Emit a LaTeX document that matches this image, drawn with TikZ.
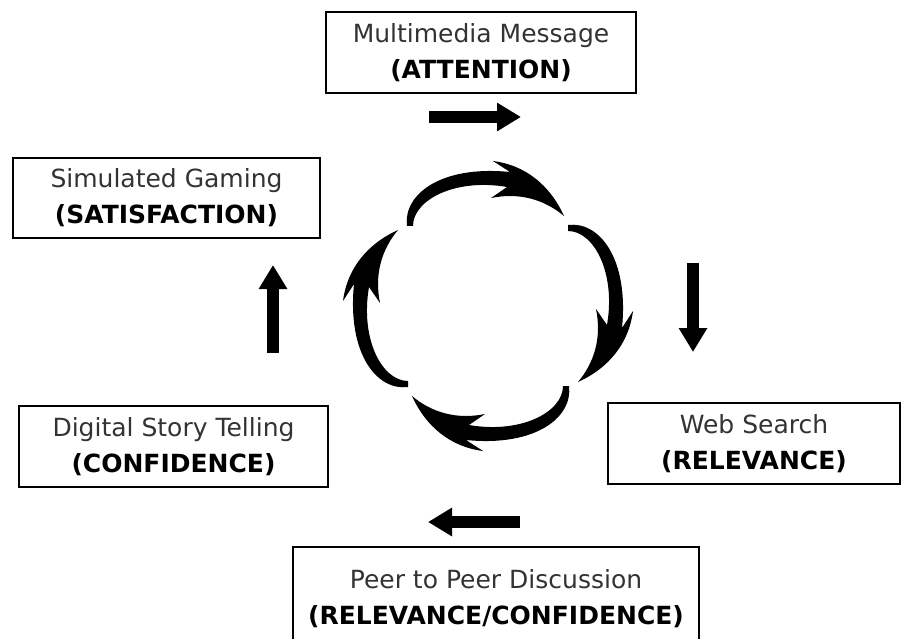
\documentclass[tikz,border=0pt]{standalone}
\usepackage{fontspec}
\setmainfont{DejaVu Sans}
\usetikzlibrary{arrows.meta}
\tikzset{
  box/.style={draw=black, line width=2.5pt, align=center, inner sep=0pt,
    font=\fontsize{25}{36}\selectfont, text=black!80},
  flow/.style={line width=12pt, draw=black,
    -{Triangle[width=27pt,length=24pt]}},
  cyc/.pic={
    \fill[black] (-81,-80) .. controls (-85,-111) and (-48,-141) .. (22,-134)
      -- (5,-145) .. controls (37,-141) and (62,-121) .. (76,-90)
      .. controls (57,-106) and (32,-114) .. (3,-108)
      -- (19,-119) .. controls (-33,-128) and (-75,-106) .. (-75,-80) -- cycle;
  }
}
\newcommand{\bl}[1]{{\bfseries\color{black}#1}}
\begin{document}
\begin{tikzpicture}[x=1pt,y=-1pt]
  \fill[white] (0,0) rectangle (902,639);
  \useasboundingbox (0,0) rectangle (902,639);
  \clip (0,0) rectangle (902,639);

  % boxes
  \node[box, minimum width=310pt, minimum height=81pt] (mm) at (481,52.5)
    {Multimedia Message\\\bl{(ATTENTION)}};
  \node[box, minimum width=307pt, minimum height=80pt] (sg) at (166.5,198)
    {Simulated Gaming\\\bl{(SATISFACTION)}};
  \node[box, minimum width=309pt, minimum height=81pt] (ds) at (173.5,446.5)
    {Digital Story Telling\\\bl{(CONFIDENCE)}};
  \node[box, minimum width=292pt, minimum height=81pt] (ws) at (754,443.5)
    {Web Search\\\bl{(RELEVANCE)}};
  \node[box, minimum width=406pt, minimum height=104pt] (pp) at (496,599)
    {Peer to Peer Discussion\\\bl{(RELEVANCE/CONFIDENCE)}};

  % straight arrows
  \coordinate (r1) at (429,117); \coordinate (r2) at (521,117);
  \coordinate (d1) at (693,263); \coordinate (d2) at (693,352);
  \coordinate (l1) at (520,522); \coordinate (l2) at (428,522);
  \coordinate (u1) at (273,353); \coordinate (u2) at (273,265);
  \draw[flow] (r1) -- (r2);
  \draw[flow] (d1) -- (d2);
  \draw[flow] (l1) -- (l2);
  \draw[flow] (u1) -- (u2);

  % cycle of curved arrows
  \coordinate (C) at (488,306);
  \pic at (C) {cyc};
  \pic[rotate=-90] at (C) {cyc};
  \pic[rotate=-180] at (C) {cyc};
  \pic[rotate=-270] at (C) {cyc};
\end{tikzpicture}
\end{document}
